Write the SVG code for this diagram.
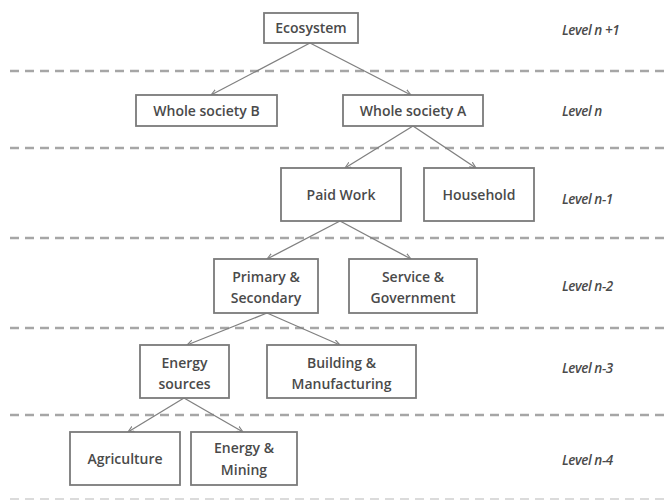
<svg xmlns="http://www.w3.org/2000/svg" width="665" height="500" viewBox="0 0 665 500">
<defs>
<marker id="ah" viewBox="0 0 10 10" refX="9" refY="5" markerWidth="7" markerHeight="7" orient="auto" markerUnits="userSpaceOnUse">
<path d="M0,1 L9,5 L0,9" fill="none" stroke="#808080" stroke-width="1.6"/>
</marker>
<style>
.box{fill:#fff;stroke:#7a7a7a;stroke-width:1.8}
.t{font-family:"Open Sans","Liberation Sans",Arial,sans-serif;font-size:14px;font-weight:600;fill:#4a4a4a;text-anchor:middle}
.lv{font-family:"Open Sans","Liberation Sans",Arial,sans-serif;font-size:13.5px;font-style:italic;font-weight:600;fill:#4a4a4a;letter-spacing:-0.4px}
.dash{stroke:#a6a6a6;stroke-width:2.5;stroke-dasharray:9 6;fill:none}
.conn line{stroke:#808080;stroke-width:1.3;marker-end:url(#ah)}
</style>
</defs>
<rect width="665" height="500" fill="#fff"/>
<g id="separators">
<line class="dash" x1="10" y1="71" x2="665" y2="71"/>
<line class="dash" x1="10" y1="148" x2="665" y2="148"/>
<line class="dash" x1="10" y1="238" x2="665" y2="238"/>
<line class="dash" x1="10" y1="328" x2="665" y2="328"/>
<line class="dash" x1="10" y1="415" x2="665" y2="415"/>
<line class="dash" x1="10" y1="499" x2="665" y2="499" style="stroke-width:1.5;stroke:#d0d0d0"/>
</g>
<g id="levels">
<text class="lv" x="562" y="35">Level n +1</text>
<text class="lv" x="562" y="116">Level n</text>
<text class="lv" x="562" y="204">Level n-1</text>
<text class="lv" x="562" y="291">Level n-2</text>
<text class="lv" x="562" y="373">Level n-3</text>
<text class="lv" x="562" y="465">Level n-4</text>
</g>
<g class="conn" id="connectors">
<line x1="310" y1="43" x2="211" y2="95"/>
<line x1="310" y1="43" x2="411" y2="95"/>
<line x1="413" y1="126" x2="345" y2="168"/>
<line x1="413" y1="126" x2="476" y2="168"/>
<line x1="340" y1="221" x2="267" y2="259"/>
<line x1="340" y1="221" x2="411" y2="259"/>
<line x1="267" y1="313" x2="187" y2="345"/>
<line x1="267" y1="313" x2="340" y2="345"/>
<line x1="184" y1="398" x2="128" y2="432"/>
<line x1="184" y1="398" x2="243" y2="432"/>
</g>
<g id="ecosystem"><rect class="box" x="264" y="13" width="94" height="30"/><text class="t" x="311" y="33">Ecosystem</text></g>
<g id="society-b"><rect class="box" x="136" y="95" width="141" height="31"/><text class="t" x="206.5" y="115.5">Whole society B</text></g>
<g id="society-a"><rect class="box" x="343" y="95" width="140" height="31"/><text class="t" x="413" y="115.5">Whole society A</text></g>
<g id="paid-work"><rect class="box" x="281" y="168" width="120" height="53"/><text class="t" x="341" y="200">Paid Work</text></g>
<g id="household"><rect class="box" x="424" y="168" width="110" height="53"/><text class="t" x="479" y="200">Household</text></g>
<g id="primary-secondary"><rect class="box" x="214" y="259" width="104" height="54"/><text class="t" x="266" y="282">Primary &amp;</text><text class="t" x="266" y="303">Secondary</text></g>
<g id="service-government"><rect class="box" x="349" y="259" width="128" height="54"/><text class="t" x="413" y="282">Service &amp;</text><text class="t" x="413" y="303">Government</text></g>
<g id="energy-sources"><rect class="box" x="140" y="345" width="89" height="53"/><text class="t" x="184.5" y="368">Energy</text><text class="t" x="184.5" y="389">sources</text></g>
<g id="building-manufacturing"><rect class="box" x="267" y="345" width="149" height="53"/><text class="t" x="341.5" y="368">Building &amp;</text><text class="t" x="341.5" y="389">Manufacturing</text></g>
<g id="agriculture"><rect class="box" x="70" y="432" width="110" height="53"/><text class="t" x="125" y="464">Agriculture</text></g>
<g id="energy-mining"><rect class="box" x="191" y="432" width="106" height="53"/><text class="t" x="244" y="453">Energy &amp;</text><text class="t" x="244" y="475">Mining</text></g>
</svg>
